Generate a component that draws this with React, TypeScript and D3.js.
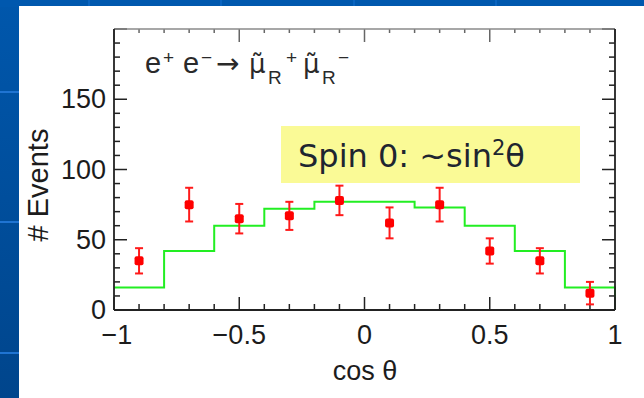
import React from "react";
import * as d3 from "d3";

// ---- data ----
const binEdges = [-1, -0.8, -0.6, -0.4, -0.2, 0, 0.2, 0.4, 0.6, 0.8, 1];
const mcValues = [16, 42, 60, 72, 77, 77, 73, 60, 42, 16];
const dataX = [-0.9, -0.7, -0.5, -0.3, -0.1, 0.1, 0.3, 0.5, 0.7, 0.9];
const dataY = [35, 75, 65, 67, 78, 62, 75, 42, 35, 12];
const dataErr = [9, 12, 10.5, 10, 10.5, 11, 12, 9, 9, 8];
const xTickLabels = [-1, -0.5, 0, 0.5, 1];
const yTickLabels = [0, 50, 100, 150];

const W = 644;
const H = 398;

export default function App() {
  const x = d3.scaleLinear().domain([-1, 1]).range([114, 615]);
  const y = d3.scaleLinear().domain([0, 200]).range([310, 29]);

  const histPts: [number, number][] = binEdges
    .slice(0, -1)
    .map((e, i) => [e, mcValues[i]] as [number, number]);
  histPts.push([1, mcValues[mcValues.length - 1]]);
  histPts.push([1, 0]);
  const histLine = d3
    .line<[number, number]>()
    .x((d) => x(d[0]))
    .y((d) => y(d[1]))
    .curve(d3.curveStepAfter);

  const xMinor = d3.range(-10, 11).map((i) => i / 10);
  const yMinor = d3.range(0, 201, 10);
  const fmt = (v: number) => (v < 0 ? "\u2212" + String(-v) : String(v));
  const axisFont = "'Liberation Sans', Arial, Helvetica, sans-serif";
  const txt = "#1c1c1c";

  const x0 = x(-1), x1 = x(1), y0 = y(0), y1 = y(200);

  return (
    <svg
      width={W}
      height={H}
      style={{ position: "absolute", left: 0, top: 0, display: "block" }}
    >
      <defs>
        <linearGradient id="blueL" x1="0" y1="0" x2="0" y2="1">
          <stop offset="0" stopColor="#0057ac" />
          <stop offset="1" stopColor="#00458c" />
        </linearGradient>
      </defs>
      {/* background */}
      <rect x={0} y={0} width={W} height={H} fill="url(#blueL)" />
      <rect x={0} y={0} width={W} height={7} fill="#0058ae" />
      {[92, 222, 353].map((yy) => (
        <rect key={yy} x={0} y={yy - 1} width={19} height={2} fill="#1f74d2" />
      ))}
      {[88, 220, 353, 495].map((xx) => (
        <rect key={xx} x={xx} y={0} width={2} height={6} fill="#0a64bf" />
      ))}
      <rect x={19} y={6} width={W - 19} height={H - 6} fill="#ffffff" />

      {/* yellow label box */}
      <rect x={281} y={126} width={299} height={57} fill="#fafa96" />
      <text
        x={298}
        y={167}
        fontFamily="'DejaVu Sans', Verdana, sans-serif"
        fontSize={32}
        fill="#1e2530"
      >
        Spin 0: ~sin
        <tspan fontSize={21} dy={-12}>2</tspan>
        <tspan dy={12}>θ</tspan>
      </text>

      {/* histogram */}
      <path
        d={histLine(histPts) || ""}
        fill="none"
        stroke="#22ee22"
        strokeWidth={2}
      />

      {/* frame ticks */}
      {xMinor.map((v) => {
        const major = Math.abs(v * 2 - Math.round(v * 2)) < 1e-6;
        const L = major ? 13 : 6;
        return (
          <g key={"xt" + v} stroke="#222" strokeWidth={1.5}>
            <line x1={x(v)} x2={x(v)} y1={y0} y2={y0 - L} />
            <line x1={x(v)} x2={x(v)} y1={y1} y2={y1 + (major ? 13 : 4)} stroke="#666" />
          </g>
        );
      })}
      {yMinor.map((v) => {
        const major = v % 50 === 0;
        const L = major ? 13 : 6;
        return (
          <g key={"yt" + v} stroke="#222" strokeWidth={1.5}>
            <line x1={x0} x2={x0 + L} y1={y(v)} y2={y(v)} />
            <line x1={x1} x2={x1 - L} y1={y(v)} y2={y(v)} />
          </g>
        );
      })}
      <line x1={x0} x2={x1} y1={y1} y2={y1} stroke="#8a8a8a" strokeWidth={1.5} />
      <line x1={x0} x2={x0} y1={y1} y2={y0} stroke="#222" strokeWidth={1.8} />
      <line x1={x1} x2={x1} y1={y1} y2={y0} stroke="#222" strokeWidth={1.8} />
      <line x1={x0} x2={x1} y1={y0} y2={y0} stroke="#222" strokeWidth={1.8} />

      {/* data points */}
      {dataX.map((dx, i) => {
        const cx = x(dx);
        const cy = y(dataY[i]);
        const top = y(dataY[i] + dataErr[i]);
        const bot = y(dataY[i] - dataErr[i]);
        return (
          <g key={"p" + i} stroke="#ff1a1a" strokeWidth={2}>
            <line x1={cx} x2={cx} y1={top} y2={bot} />
            <line x1={cx - 4} x2={cx + 4} y1={top} y2={top} />
            <line x1={cx - 4} x2={cx + 4} y1={bot} y2={bot} />
            <rect
              x={cx - 4.5}
              y={cy - 4.5}
              width={9}
              height={9}
              rx={2}
              fill="#ff0000"
              stroke="none"
            />
          </g>
        );
      })}

      {/* tick labels */}
      {xTickLabels.map((v) => (
        <text
          key={"xl" + v}
          x={x(v) + (v === -1 ? 3 : 0)}
          y={344}
          textAnchor="middle"
          fontFamily={axisFont}
          fontSize={27}
          fill={txt}
        >
          {fmt(v)}
        </text>
      ))}
      {yTickLabels.map((v) => (
        <text
          key={"yl" + v}
          x={106}
          y={y(v) + 9}
          textAnchor="end"
          fontFamily={axisFont}
          fontSize={27}
          fill={txt}
        >
          {v}
        </text>
      ))}

      {/* axis titles */}
      <text
        transform="translate(48,185) rotate(-90)"
        textAnchor="middle"
        fontFamily={axisFont}
        fontSize={29}
        fill={txt}
      >
        # Events
      </text>
      <text
        x={365}
        y={380}
        textAnchor="middle"
        fontFamily={axisFont}
        fontSize={27}
        fill={txt}
      >
        cos θ
      </text>

      {/* process title */}
      <text fontFamily={axisFont} fill="#2a2a2a" fontSize={29}>
        <tspan x={145} y={73}>e</tspan>
        <tspan x={163} y={64} fontSize={19}>+</tspan>
        <tspan x={183} y={73}>e</tspan>
        <tspan x={201} y={64} fontSize={19}>−</tspan>
        <tspan x={216} y={73} fontSize={28} fontFamily="'DejaVu Sans', sans-serif">→</tspan>
        <tspan x={249} y={73} fontSize={26} fontFamily="'DejaVu Sans', sans-serif">{"\u03bc\u0303"}</tspan>
        <tspan x={268} y={84} fontSize={19}>R</tspan>
        <tspan x={286} y={64} fontSize={19}>+</tspan>
        <tspan x={303} y={73} fontSize={26} fontFamily="'DejaVu Sans', sans-serif">{"\u03bc\u0303"}</tspan>
        <tspan x={322} y={84} fontSize={19}>R</tspan>
        <tspan x={338} y={64} fontSize={19}>−</tspan>
      </text>
    </svg>
  );
}
